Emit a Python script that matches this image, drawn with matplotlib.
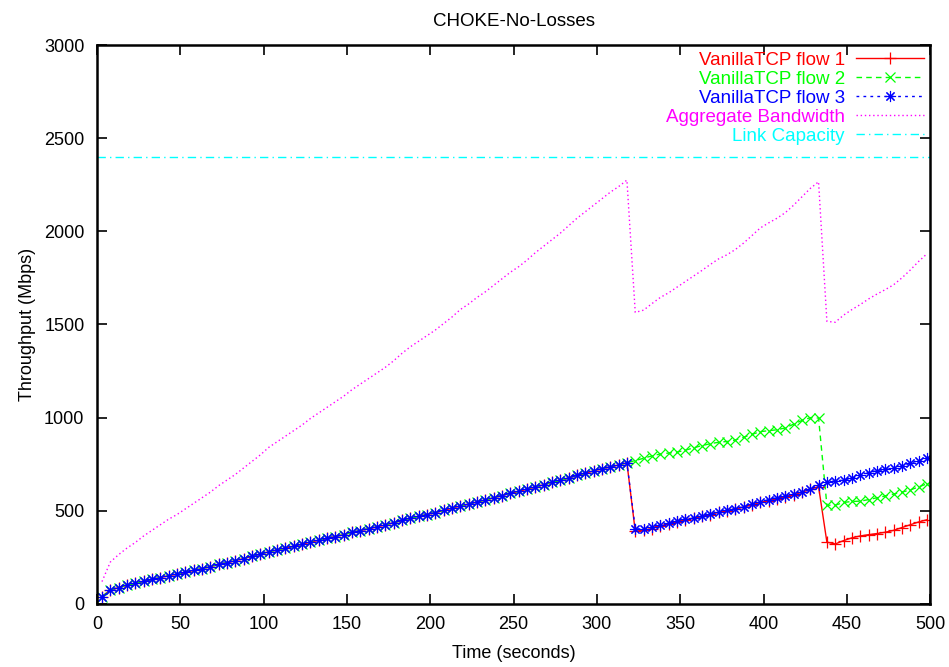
import numpy as np
import matplotlib.pyplot as plt

# sample times (seconds), one point every 5 s
t = np.arange(3, 500, 5)

# all three flows overlap until the first drop (t=3..318)
early = [40, 75, 88, 100, 110, 122, 132, 142, 152, 160,
         170, 180, 190, 200, 212, 222, 232, 244, 256, 268,
         280, 290, 300, 310, 320, 332, 342, 352, 362, 372,
         384, 394, 404, 414, 424, 436, 448, 460, 470, 480,
         490, 502, 514, 526, 536, 548, 558, 570, 582, 594,
         604, 616, 628, 640, 652, 664, 676, 690, 702, 714,
         726, 736, 746, 758]

# t=323..498
flow1_tail = [390, 395, 405, 418, 428, 440, 450, 460, 470, 480,
              492, 500, 510, 520, 532, 545, 555, 565, 575, 585,
              600, 615, 630,
              332, 322, 340, 355, 365, 372, 378, 385, 395, 410,
              425, 440, 452]
flow2_tail = [770, 782, 795, 805, 810, 815, 825, 838, 850, 860,
              868, 872, 880, 895, 910, 925, 930, 935, 945, 965,
              985, 1000, 998,
              530, 530, 545, 550, 552, 560, 570, 580, 590, 600,
              612, 628, 645]
flow3_tail = [405, 400, 412, 422, 432, 445, 455, 462, 470, 482,
              492, 502, 512, 522, 535, 548, 560, 570, 580, 590,
              600, 615, 638,
              655, 660, 665, 675, 690, 705, 715, 722, 728, 740,
              755, 770, 782]

flow1 = early + flow1_tail
flow2 = early + flow2_tail
flow3 = early + flow3_tail

aggregate = [120, 225, 265, 300, 330, 365, 395, 425, 455, 480,
             510, 540, 570, 600, 635, 665, 695, 730, 765, 800,
             840, 870, 900, 930, 960, 995, 1025, 1055, 1085, 1115,
             1150, 1180, 1210, 1240, 1270, 1305, 1345, 1380, 1410, 1440,
             1470, 1505, 1540, 1580, 1610, 1645, 1675, 1710, 1745, 1780,
             1810, 1845, 1885, 1920, 1955, 1990, 2030, 2070, 2105, 2140,
             2175, 2210, 2240, 2275,
             1565, 1577, 1612, 1645, 1670, 1700, 1730, 1760, 1790, 1822,
             1852, 1874, 1902, 1937, 1977, 2018, 2045, 2070, 2100, 2140,
             2185, 2230, 2266,
             1517, 1512, 1550, 1580, 1607, 1637, 1663, 1687, 1713, 1750,
             1792, 1838, 1879]

link_capacity = 2400

plt.rcParams['font.family'] = ['Liberation Sans', 'DejaVu Sans']
plt.rcParams['font.size'] = 13

fig = plt.figure(figsize=(9.49, 6.67), dpi=100)
ax = fig.add_axes([0.1022, 0.0945, 0.878, 0.838])

ax.plot(t, flow1, color='#ff0000', ls='-', lw=1, marker='+', ms=8, mew=0.9,
        label='VanillaTCP flow 1')
ax.plot(t, flow2, color='#00ff00', ls=(0, (4, 3)), lw=1, marker='x', ms=6.5, mew=0.9,
        label='VanillaTCP flow 2')
ax.plot(t, flow3, color='#0000ff', ls=(0, (2, 3)), lw=1, marker=(8, 2, 0), ms=8, mew=0.8,
        label='VanillaTCP flow 3')
ax.plot(t, aggregate, color='#ff00ff', ls=(0, (1, 2)), lw=1,
        label='Aggregate Bandwidth')
ax.plot([0, 500], [link_capacity, link_capacity], color='#00ffff',
        ls=(0, (6, 3, 1, 3)), lw=1, label='Link Capacity')

ax.set_xlim(0, 500)
ax.set_ylim(0, 3000)
ax.set_xticks(range(0, 501, 50))
ax.set_yticks(range(0, 3001, 500))
ax.tick_params(direction='in', top=True, right=True, length=7, width=1.2,
               labelsize=13, pad=9)
for s in ax.spines.values():
    s.set_linewidth(1.8)

ax.set_title('CHOKE-No-Losses', pad=14, fontsize=13.5)
ax.set_xlabel('Time (seconds)', labelpad=8)
ax.set_ylabel('Throughput (Mbps)', labelpad=6)

ax.legend(loc='upper right', frameon=False, markerfirst=False, fontsize=13.5,
          labelcolor='linecolor', handlelength=3.6, labelspacing=0.1,
          borderaxespad=0.1, borderpad=0.25, handletextpad=0.6)

fig.savefig('out.png', dpi=100)
